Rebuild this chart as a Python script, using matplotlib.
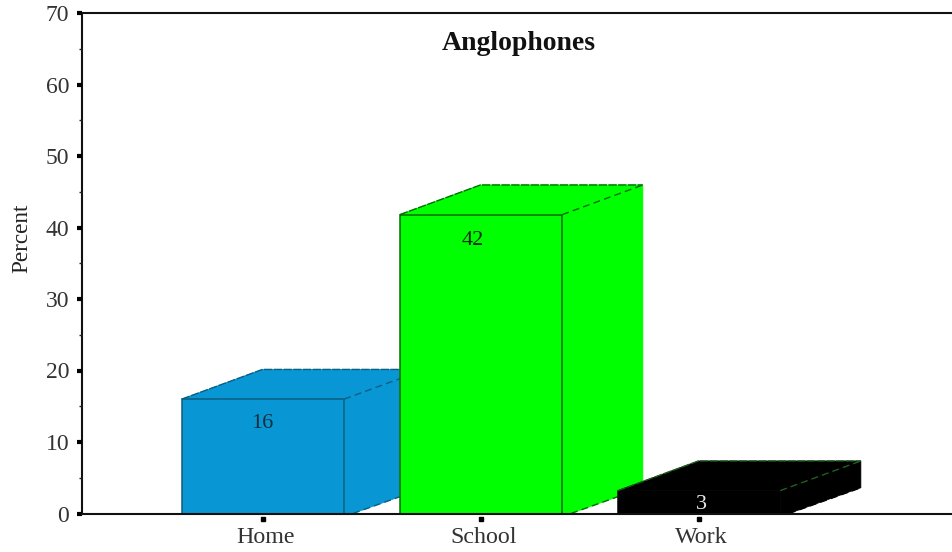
import matplotlib
matplotlib.use('Agg')
import matplotlib.pyplot as plt
from matplotlib.patches import Polygon
from matplotlib.transforms import ScaledTranslation

plt.rcParams['font.family'] = ['Liberation Serif', 'DejaVu Serif']

categories = ['Home', 'School', 'Work']
values = [16, 41.8, 3.2]
value_labels = ['16', '42', '3']
bar_colors = ['#0896d4', '#00ff00', '#000000']
edge_colors = ['#0a5f80', '#066b06', '#000000']
dash_colors = ['#0a5f80', '#066b06', '#1f5f1f']
label_colors = ['#10303c', '#0a2a0a', '#e8e8e8']
y_ticks = [0, 10, 20, 30, 40, 50, 60, 70]
y_minor = [5, 15, 25, 35, 45, 55, 65]

# where the number sits on each bar
label_x = [-0.005, 0.96, 2.01]
label_y = [12.6, 38.2, 1.25]

W = 953
H = 552
bar_w = 0.745
depth_x = 0.37
depth_y = 4.15
back_bottom = 3.6

fig = plt.figure(figsize=(W / 100, H / 100), dpi=100)
ax = fig.add_axes([82.5 / W, 1 - 513.5 / H, (W - 82.5) / W, 500.5 / H])
ax.set_xlim(-0.828, 3.165)
ax.set_ylim(0, 70)

for i in range(3):
    x0 = i - bar_w / 2
    x1 = i + bar_w / 2
    v = values[i]
    c = bar_colors[i]
    e = edge_colors[i]
    d = dash_colors[i]
    # side face first, then top, then front
    side = Polygon([(x1, 0), (x1 + 0.04, 0), (x1 + depth_x, back_bottom),
                    (x1 + depth_x, v + depth_y), (x1, v)],
                   facecolor=c, edgecolor=c, lw=0.5, zorder=2 + i * 3, clip_on=False)
    top = Polygon([(x0, v), (x0 + depth_x, v + depth_y), (x1 + depth_x, v + depth_y), (x1, v)],
                  facecolor=c, edgecolor=c, lw=0.5, zorder=3 + i * 3)
    front = Polygon([(x0, 0), (x0, v), (x1, v), (x1, 0)],
                    facecolor=c, edgecolor=e, lw=1.1, zorder=4 + i * 3)
    ax.add_patch(side)
    ax.add_patch(top)
    ax.add_patch(front)
    # dashed edges of the box
    ax.plot([x0, x0 + depth_x, x1 + depth_x], [v, v + depth_y, v + depth_y], color=d, lw=1.0,
            ls=(0, (6, 1)), zorder=4 + i * 3)
    ax.plot([x1, x1 + depth_x], [v, v + depth_y], color=d, lw=1.0, ls=(0, (5, 3)),
            zorder=4 + i * 3)
    ax.plot([x1 + 0.04, x1 + depth_x], [0, back_bottom], color=e, lw=1.0, ls=(0, (5, 3)),
            zorder=4 + i * 3)
    ax.text(label_x[i], label_y[i], value_labels[i], ha='center', va='center', fontsize=16,
            color=label_colors[i], zorder=20)

ax.spines['right'].set_visible(False)
for s in ['left', 'top', 'bottom']:
    ax.spines[s].set_linewidth(1.5)
    ax.spines[s].set_color('#111111')
    ax.spines[s].set_zorder(1)
ax.spines['bottom'].set_zorder(30)

ax.set_yticks(y_ticks)
ax.set_yticks(y_minor, minor=True)
ax.tick_params(axis='y', which='major', length=3.5, width=3, labelsize=17, labelcolor='#333333',
               pad=6)
ax.tick_params(axis='y', which='minor', length=2.5, width=1, color='#222222')

ax.set_xticks(range(3))
ax.set_xticklabels(categories, fontsize=17.3, color='#333333')
ax.tick_params(axis='x', which='major', length=0, pad=10)
# labels sit a bit right of their ticks in the original
for lab in ax.get_xticklabels():
    lab.set_transform(lab.get_transform() + ScaledTranslation(2.5 / 100, 0, fig.dpi_scale_trans))
# the x ticks float just under the axis line
ax.plot(range(3), [-0.7] * 3, ls='none', marker='s', ms=3, color='black', clip_on=False,
        zorder=30)

fig.text(519 / W, 1 - 44 / H, 'Anglophones', ha='center', va='center', fontsize=20,
         fontweight='bold', color='#111111')
fig.text(22 / W, 1 - 238 / H, 'Percent', rotation=90, ha='center', va='center', fontsize=16.7,
         color='#222222')

fig.savefig('out.png', dpi=100)
